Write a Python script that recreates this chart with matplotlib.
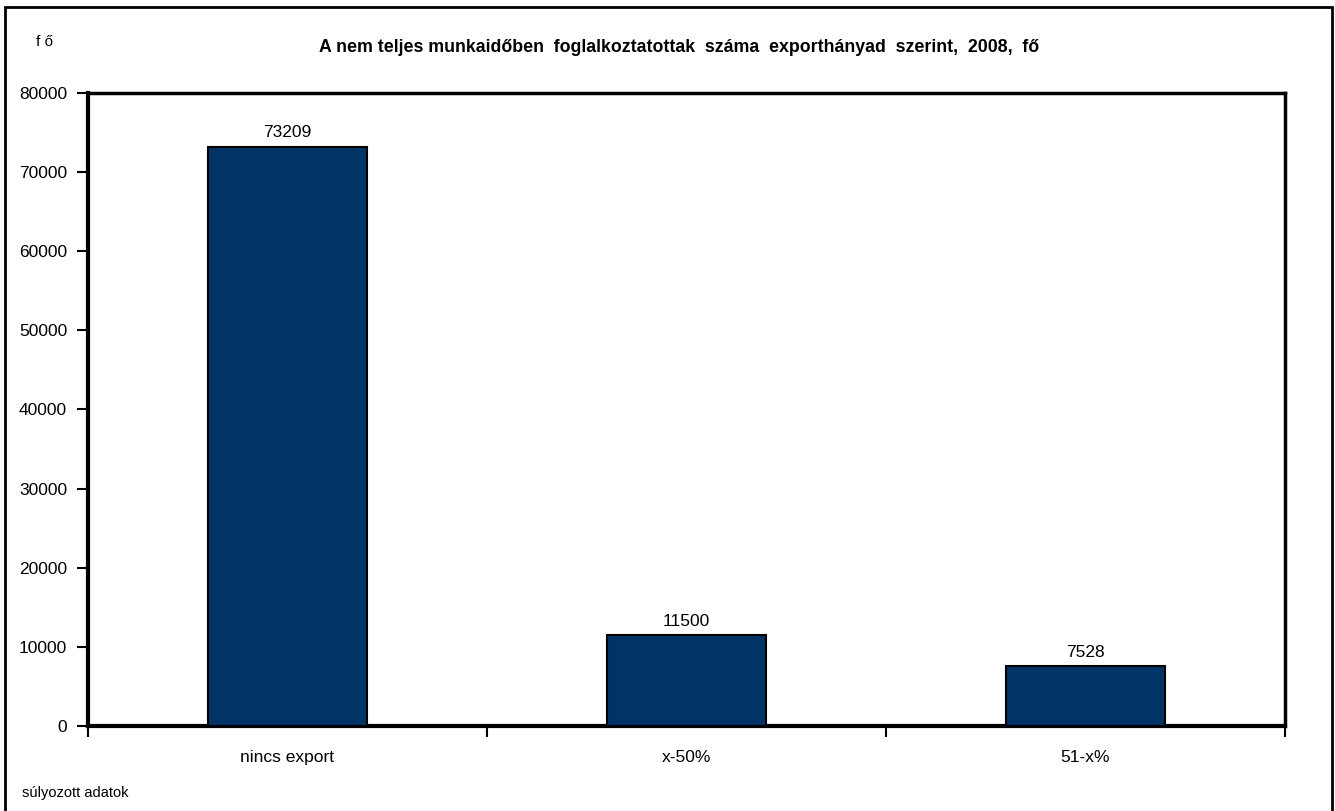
import matplotlib.pyplot as plt
import matplotlib.patches as mpatches
import numpy as np

plt.rcParams['font.family'] = ['Liberation Sans', 'DejaVu Sans']

# adatok
categories = ["nincs export", "x-50%", "51-x%"]
values = [73209, 11500, 7528]
y_ticks = [0, 10000, 20000, 30000, 40000, 50000, 60000, 70000, 80000]

bar_color = '#003366'

fig = plt.figure(figsize=(13.35, 8.11), dpi=100)
ax = fig.add_axes([88/1335, 1 - 726/811, (1285 - 88)/1335, (726 - 93)/811])

x = np.arange(len(categories))
bars = ax.bar(x, values, width=0.4, color=bar_color, edgecolor='black', linewidth=1.5, zorder=3)

# címkék a oszlopok felett
for xi, v in zip(x, values):
    ax.text(xi, v + 800, f"{v}", ha='center', va='bottom', fontsize=12.5)

ax.set_xlim(-0.5, len(categories) - 0.5)
ax.set_ylim(0, 80000)
ax.set_yticks(y_ticks)
ax.set_yticklabels([str(t) for t in y_ticks], fontsize=12.5)

# x tengely: osztásjelek a kategóriák határán
ax.set_xticks(np.arange(len(categories) + 1) - 0.5)
ax.set_xticklabels([])
ax.set_xticks(x, minor=True)
ax.set_xticklabels(categories, minor=True, fontsize=12.5)
ax.tick_params(axis='x', which='minor', length=0, pad=17)
ax.tick_params(axis='x', which='major', length=8, width=1.5, direction='out')
ax.tick_params(axis='y', length=8, width=1.5, direction='out', pad=7)

for side in ['left', 'bottom']:
    ax.spines[side].set_linewidth(3)
for side in ['top', 'right']:
    ax.spines[side].set_linewidth(2.5)

fig.text(679/1335, 1 - 48/811,
         "A nem teljes munkaidőben  foglalkoztatottak  száma  exporthányad  szerint,  2008,  fő",
         ha='center', va='center', fontsize=12.8, fontweight='bold')
fig.text(45/1335, 1 - 42/811, "f ő", ha='center', va='center', fontsize=11)
fig.text(22/1335, 1 - 793/811, "súlyozott adatok", ha='left', va='center', fontsize=10.5)

# külső keret
frame = mpatches.Rectangle((5/1335, -0.05), (1332 - 5)/1335, 1.05 - 7/811,
                           transform=fig.transFigure, fill=False,
                           edgecolor='black', linewidth=2)
fig.patches.append(frame)

plt.savefig('out.png', dpi=100)
